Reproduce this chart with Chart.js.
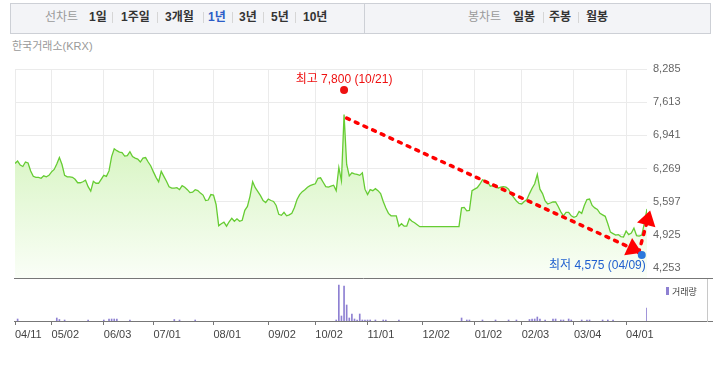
<!DOCTYPE html>
<html>
<head>
<meta charset="utf-8">
<script src="https://cdn.jsdelivr.net/npm/chart.js@4.4.1/dist/chart.umd.min.js"></script>
<style>
body{margin:0;width:713px;height:376px;position:relative;overflow:hidden;background:#fff;font-family:"Liberation Sans","Noto Sans CJK KR",sans-serif;}
#tabs{position:absolute;left:10px;top:3px;width:701px;height:31px;border:1px solid #cdd0d6;background:#f3f4f7;box-sizing:border-box;}
#tabs span{position:absolute;top:6px;font-size:12px;line-height:14px;white-space:nowrap;}
#tabs .lab{color:#9a9a9a;}
#tabs .it{color:#333;font-weight:bold;}
#tabs .on{color:#2c5dc7;}
#tabs i{position:absolute;top:8px;width:1px;height:11px;background:#d6d6d6;}
#divider{position:absolute;left:353px;top:0;width:1px;height:29px;background:#cdd0d6;}
#src{position:absolute;left:12px;top:40px;font-size:11px;line-height:13px;color:#999;}
canvas{position:absolute;left:0;top:0;}
</style>
</head>
<body>
<div id="tabs">
  <span class="lab" style="left:34px">선차트</span>
  <span class="it" style="left:78px">1일</span><i style="left:101px"></i>
  <span class="it" style="left:110px">1주일</span><i style="left:146px"></i>
  <span class="it" style="left:154px">3개월</span><i style="left:192px"></i>
  <span class="it on" style="left:197px">1년</span><i style="left:221px"></i>
  <span class="it" style="left:228px">3년</span><i style="left:252px"></i>
  <span class="it" style="left:260px">5년</span><i style="left:284px"></i>
  <span class="it" style="left:292px">10년</span>
  <div id="divider"></div>
  <span class="lab" style="left:457px">봉차트</span>
  <span class="it" style="left:502px">일봉</span><i style="left:532px"></i>
  <span class="it" style="left:538px">주봉</span><i style="left:567px"></i>
  <span class="it" style="left:575px">월봉</span>
</div>
<div id="src">한국거래소(KRX)</div>
<canvas id="price" width="713" height="376"></canvas>
<canvas id="vol" width="713" height="376"></canvas>
<script>
// daily closes, 2024-04-11 .. 2025-04-11 (trading day index 0..242)
const priceValues = [
  6370,6420,6340,6310,6400,6380,6220,6110,6090,6090,6070,6120,6100,6130,
  6200,6250,6360,6490,6350,6130,6100,6100,6090,6050,5980,5980,6000,6030,5900,5810,6010,5970,5970,6050,
  6130,6110,6220,6510,6670,6630,6600,6590,6520,6530,6610,6510,6480,6460,6400,6480,6490,6400,6320,
  6200,6090,6000,6210,6110,6010,5900,5870,5870,5880,5840,5920,5890,5840,5780,5790,5840,5820,5770,5730,5620,5630,5740,
  5730,5540,5110,5150,5180,5100,5190,5260,5200,5250,5200,5220,5420,5500,5710,6000,5880,5800,5720,5620,5580,
  5650,5620,5600,5520,5340,5320,5380,5310,5330,5360,5480,5640,5740,5800,5840,5890,5920,5940,
  5960,6070,6080,5990,5900,5890,5910,5930,5820,6290,6020,7360,6350,6120,6180,6160,6150,6130,6180,5850,
  5740,5840,5820,5860,5820,5760,5600,5470,5360,5310,5310,5310,5100,5150,5100,5100,5250,5200,5170,5130,5090,
  5090,5090,5090,5090,5090,5090,5090,5090,5090,5090,5090,5090,5090,5090,5090,5470,5480,5410,5420,5820,
  5850,5880,5950,6040,6020,5990,5910,5920,5940,5870,5890,5900,5890,5850,5750,5680,5610,5560,
  5550,5600,5640,5760,5870,5960,6150,5850,5760,5610,5550,5570,5590,5590,5500,5390,5310,5380,5380,5310,
  5280,5300,5400,5360,5520,5640,5650,5520,5470,5440,5360,5330,5300,5150,4980,4950,4920,4930,4890,4880,
  5000,4930,4960,5060,4910,4900,4920,5160,5450
];
const tickDays = [0, 14, 34, 53, 76, 97, 115, 135, 156, 176, 194, 214, 234];
const tickLabels = ['04/11','05/02','06/03','07/01','08/01','09/02','10/02','11/01','12/02','01/02','02/03','03/04','04/01'];
const yTicks = [4253, 4925, 5597, 6269, 6941, 7613, 8285];

// volume (relative units), only days with a visible bar
const volDays = [1,16,17,19,28,34,36,37,38,39,44,61,63,69,123,124,125,126,127,128,129,130,131,132,133,134,135,136,138,141,142,147,
  171,173,174,179,184,189,192,197,198,199,200,201,203,206,207,209,210,212,213,217,219,220,225,227,229,242];
const volValues = [200,300,150,100,100,100,200,200,200,200,100,150,100,100,100,3600,500,3500,1600,300,700,200,100,700,100,100,100,100,100,100,100,100,
  300,100,100,100,100,100,100,150,200,200,400,200,100,200,200,100,100,200,100,100,100,100,100,100,100,1300];

const highDay = 126, highValue = 7800, highLabel = '최고 7,800 (10/21)';
const lowDay = 240, lowValue = 4575, lowLabel = '최저 4,575 (04/09)';
// hand drawn trend arrows [day, price]
const trendArrows = [
  [[127, 7290], [240, 4560], 15],
  [[238.8, 4560], [243.2, 5420], 15]
];

function arrow(ctx, x1, y1, x2, y2, len) {
  const a = Math.atan2(y2 - y1, x2 - x1);
  const bx = x2 - len * Math.cos(a), by = y2 - len * Math.sin(a);
  ctx.setLineDash([3, 6.5]);
  ctx.lineCap = 'round';
  ctx.lineWidth = 3.5;
  ctx.beginPath(); ctx.moveTo(x1, y1); ctx.lineTo(bx, by); ctx.stroke();
  ctx.setLineDash([]);
  ctx.beginPath();
  ctx.moveTo(x2, y2);
  ctx.lineTo(bx + 9.5 * Math.sin(a), by - 9.5 * Math.cos(a));
  ctx.lineTo(bx - 9.5 * Math.sin(a), by + 9.5 * Math.cos(a));
  ctx.closePath(); ctx.fill();
}

const annot = {
  id: 'annot',
  afterDraw(chart) {
    const {ctx, chartArea} = chart;
    const x = chart.scales.x, y = chart.scales.y;
    ctx.save();
    ctx.strokeStyle = '#777'; ctx.lineWidth = 1;
    ctx.beginPath(); ctx.moveTo(14, chartArea.bottom + 0.5); ctx.lineTo(713, chartArea.bottom + 0.5); ctx.stroke();

    ctx.strokeStyle = '#f00'; ctx.fillStyle = '#f00';
    trendArrows.forEach(t => {
      arrow(ctx, x.getPixelForValue(t[0][0]), y.getPixelForValue(t[0][1]),
        x.getPixelForValue(t[1][0]), y.getPixelForValue(t[1][1]), t[2]);
    });

    ctx.font = '12px "Liberation Sans","Noto Sans CJK KR"';
    ctx.textBaseline = 'middle';
    const hx = x.getPixelForValue(highDay), hy = y.getPixelForValue(highValue) - 3;
    ctx.fillStyle = '#ee1111';
    ctx.beginPath(); ctx.arc(hx, hy, 4, 0, Math.PI * 2); ctx.fill();
    ctx.textAlign = 'center';
    ctx.fillText(highLabel, hx, hy - 10);

    const lx = x.getPixelForValue(lowDay), ly = y.getPixelForValue(lowValue) + 3;
    ctx.fillStyle = '#2a78dc';
    ctx.beginPath(); ctx.arc(lx, ly, 4, 0, Math.PI * 2); ctx.fill();
    ctx.fillStyle = '#1f5fcf';
    ctx.textAlign = 'right';
    ctx.fillText(lowLabel, lx + 4, ly + 11);
    ctx.restore();
  }
};

const priceChart = new Chart(document.getElementById('price').getContext('2d'), {
  type: 'line',
  data: {
    datasets: [{
      data: priceValues.map((v, i) => ({x: i, y: v})),
      borderColor: '#66cc33',
      borderWidth: 1.3,
      pointRadius: 0,
      tension: 0,
      fill: 'start',
      backgroundColor: function(c) {
        const a = c.chart.chartArea;
        if (!a) return 'rgba(0,0,0,0)';
        const g = c.chart.ctx.createLinearGradient(0, a.top, 0, a.bottom);
        g.addColorStop(0, 'rgb(196,240,165)');
        g.addColorStop(1, 'rgb(250,254,247)');
        return g;
      }
    }]
  },
  options: {
    responsive: false,
    animation: false,
    layout: {padding: {left: 15, top: 69, right: 0, bottom: 98}},
    plugins: {legend: {display: false}, tooltip: {enabled: false}},
    scales: {
      x: {
        type: 'linear', min: 0, max: 242,
        afterBuildTicks: s => { s.ticks = tickDays.map(v => ({value: v})); },
        afterFit: s => { s.height = 0; },
        ticks: {display: false},
        grid: {color: '#ebebeb', drawTicks: false},
        border: {display: false}
      },
      y: {
        position: 'right', min: 4050, max: 8285,
        afterBuildTicks: s => { s.ticks = yTicks.map(v => ({value: v})); },
        afterFit: s => { s.width = 66; },
        ticks: {padding: 6, color: '#666', font: {size: 11, family: '"Liberation Sans"'},
          callback: v => v.toLocaleString('en-US')},
        grid: {color: '#ebebeb', drawTicks: false},
        border: {display: false}
      }
    }
  },
  plugins: [annot]
});

const volDeco = {
  id: 'volDeco',
  afterDraw(chart) {
    const {ctx, chartArea} = chart;
    ctx.save();
    ctx.strokeStyle = '#777'; ctx.lineWidth = 1;
    ctx.beginPath(); ctx.moveTo(14, chartArea.bottom + 0.5); ctx.lineTo(713, chartArea.bottom + 0.5); ctx.stroke();
    ctx.strokeStyle = '#c8c8c8';
    ctx.beginPath(); ctx.moveTo(707.5, 279); ctx.lineTo(707.5, chartArea.bottom + 1); ctx.stroke();
    ctx.fillStyle = '#8e80d2';
    ctx.fillRect(666, 287, 3, 8);
    ctx.fillStyle = '#444';
    ctx.font = '9px "Noto Sans CJK KR"';
    ctx.textBaseline = 'middle';
    ctx.fillText('거래량', 672, 291.5);
    ctx.restore();
  }
};

const volChart = new Chart(document.getElementById('vol').getContext('2d'), {
  type: 'bar',
  data: {
    datasets: [{
      data: volDays.map((d, i) => ({x: d, y: volValues[i]})),
      backgroundColor: '#8e80d2',
      barThickness: 1,
      borderWidth: 0
    }]
  },
  options: {
    responsive: false,
    animation: false,
    layout: {padding: {left: 15, right: 66, top: 280, bottom: 35}},
    plugins: {legend: {display: false}, tooltip: {enabled: false}},
    scales: {
      x: {
        type: 'linear', min: 0, max: 242, offset: false,
        afterBuildTicks: s => { s.ticks = tickDays.map(v => ({value: v})); },
        afterFit: s => { s.height = 20; },
        ticks: {autoSkip: false, maxRotation: 0, align: 'start', padding: 3, color: '#444',
          font: {size: 11, family: '"Liberation Sans"'},
          callback: v => tickLabels[tickDays.indexOf(v)]},
        grid: {offset: false, drawOnChartArea: false, drawTicks: true, tickLength: 4, color: '#777'},
        border: {display: true, color: '#777'}
      },
      y: {display: false, min: 0, max: 4100}
    }
  },
  plugins: [volDeco]
});
</script>
</body>
</html>
